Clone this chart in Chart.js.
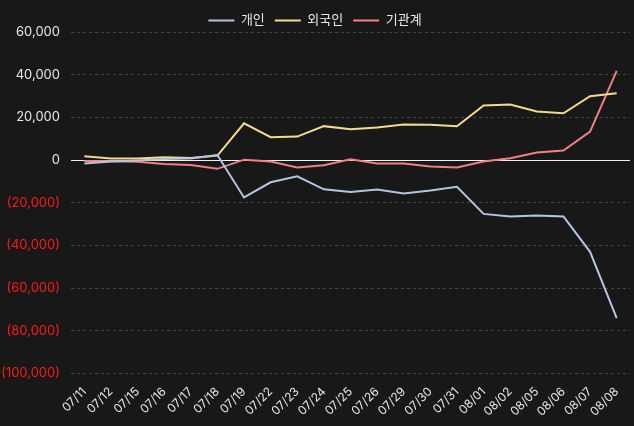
<!DOCTYPE html>
<html>
<head>
<meta charset="utf-8">
<script src="https://cdn.jsdelivr.net/npm/chart.js@4"></script>
<style>
  html, body { margin: 0; padding: 0; background: #181818; }
  #wrap { width: 634px; height: 426px; }
</style>
</head>
<body>
<div id="wrap"><canvas id="flowChart"></canvas></div>
<script>
const dates = ['07/11', '07/12', '07/15', '07/16', '07/17', '07/18', '07/19', '07/22', '07/23', '07/24',
    '07/25', '07/26', '07/29', '07/30', '07/31', '08/01', '08/02', '08/05', '08/06', '08/07', '08/08'];

// 누적 순매수
const individual = [-1600, -700, -200, 500, 700, 2400, -17500, -10400, -7600, -13700,
    -15000, -13800, -15600, -14300, -12500, -25200, -26400, -26000, -26400, -43000, -74000];
const foreign = [1800, 700, 700, 1300, 1000, 2100, 17200, 10700, 11000, 15900,
    14400, 15300, 16700, 16600, 15800, 25600, 26000, 22800, 21900, 29900, 31300];
const institution = [-400, -500, -800, -1800, -2300, -4100, 200, -700, -3500, -2400,
    400, -1600, -1600, -3000, -3500, -700, 900, 3500, 4500, 13300, 41800];

const fontFamily = "Inter, 'Noto Sans CJK KR', sans-serif";

function formatNumber(v) {
    const s = Math.abs(v).toLocaleString('en-US');
    return v < 0 ? '(' + s + ')' : s;
}

new Chart(document.getElementById('flowChart'), {
    type: 'line',
    data: {
        labels: dates,
        datasets: [
            { label: '개인', data: individual, borderColor: '#b3c5e3', backgroundColor: '#b3c5e3' },
            { label: '외국인', data: foreign, borderColor: '#f6d98a', backgroundColor: '#f6d98a' },
            { label: '기관계', data: institution, borderColor: '#f27f84', backgroundColor: '#f27f84' }
        ]
    },
    options: {
        responsive: true,
        maintainAspectRatio: false,
        animation: false,
        layout: { padding: { left: 0, right: 4, top: 4, bottom: 4 } },
        elements: {
            line: { borderWidth: 2, tension: 0 },
            point: { radius: 0 }
        },
        plugins: {
            legend: {
                position: 'top',
                maxHeight: 28,
                labels: {
                    color: '#e8e8e8',
                    boxWidth: 26,
                    boxHeight: 0,
                    font: { family: fontFamily, size: 13 },
                    padding: 10
                }
            },
            tooltip: { enabled: false }
        },
        scales: {
            x: {
                offset: true,
                grid: { display: false },
                border: { display: false },
                // let the first rotated label hang into the y-axis area
                afterFit: s => { s.paddingLeft = 0; },
                ticks: {
                    color: '#e8e8e8',
                    maxRotation: 45,
                    minRotation: 45,
                    autoSkip: false,
                    font: { family: fontFamily, size: 12 }
                }
            },
            y: {
                min: -100000,
                max: 60000,
                afterFit: s => { s.width = 71; },
                border: {
                    display: false,
                    dash: ctx => (ctx.tick && ctx.tick.value === 0) ? [] : [3, 3]
                },
                grid: {
                    drawTicks: false,
                    color: ctx => (ctx.tick && ctx.tick.value === 0) ? '#f0f0f0' : '#444444',
                    lineWidth: 1
                },
                ticks: {
                    stepSize: 20000,
                    padding: 11,
                    color: ctx => ctx.tick.value < 0 ? '#ff1a1a' : '#e8e8e8',
                    font: { family: fontFamily, size: 13 },
                    callback: v => formatNumber(v)
                }
            }
        }
    }
});
</script>
</body>
</html>
